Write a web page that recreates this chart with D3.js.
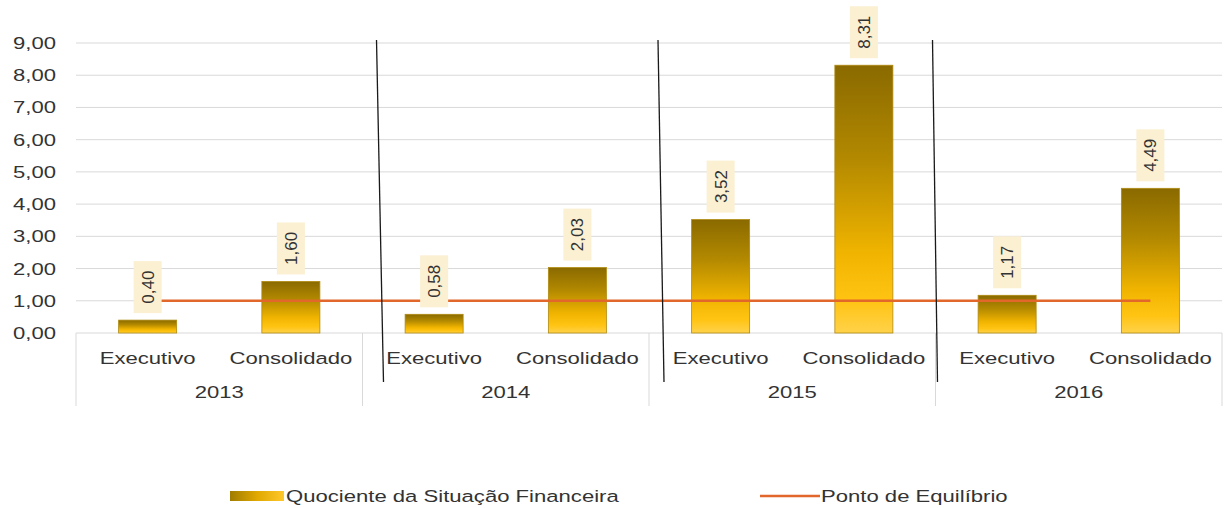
<!DOCTYPE html>
<html>
<head>
<meta charset="utf-8">
<script src="https://cdn.jsdelivr.net/npm/d3@7"></script>
<style>
  body { margin: 0; background: #fff; }
  svg text { font-family: "Liberation Sans", Arial, sans-serif; fill: #333; }
</style>
</head>
<body>
<div id="chart"></div>
<script>
//------------------------------ data ------------------------------
var years = ["2013", "2014", "2015", "2016"];
var types = ["Executivo", "Consolidado"];
var quociente = [0.40, 1.60, 0.58, 2.03, 3.52, 8.31, 1.17, 4.49];
var equilibrio = [1, 1, 1, 1, 1, 1, 1, 1];
var yTicks = [0, 1, 2, 3, 4, 5, 6, 7, 8, 9];
var barName = "Quociente da Situação Financeira";
var lineName = "Ponto de Equilíbrio";

var rows = [];
years.forEach(function(y, i) {
	types.forEach(function(t, j) {
		var k = i * types.length + j;
		rows.push({year: y, type: t, value: quociente[k], eq: equilibrio[k]});
	});
});

//------------------------------ setup ------------------------------
var width = 1224, height = 508;
var plotLeft = 76, plotRight = 1222, plotTop = 43, plotBottom = 333;
var stretch = 1.3; // the reference text is wide

var svg = d3.select("#chart").append("svg")
	.attr("width", width)
	.attr("height", height);

var fmt = function(v) { return d3.format(".2f")(v).replace(".", ","); };

var x0 = d3.scaleBand().domain(years).range([plotLeft, plotRight]);
var x1 = d3.scaleBand().domain(types).range([0, x0.bandwidth()])
	.paddingInner(0.595).paddingOuter(0.2975);
var y = d3.scaleLinear().domain([0, 9]).range([plotBottom, plotTop]);

function cx(d) { return x0(d.year) + x1(d.type) + x1.bandwidth() / 2; }

//gradient for bars
var defs = svg.append("defs");
var grad = defs.append("linearGradient").attr("id", "barGrad")
	.attr("x1", "0%").attr("y1", "0%").attr("x2", "0%").attr("y2", "100%");
[[0, "#8a6a00"], [0.35, "#b38900"], [0.7, "#f0b400"], [0.88, "#ffc312"], [1, "#ffd24a"]]
	.forEach(function(s) { grad.append("stop").attr("offset", s[0]).attr("stop-color", s[1]); });
var legGrad = defs.append("linearGradient").attr("id", "legGrad")
	.attr("x1", "0%").attr("y1", "0%").attr("x2", "100%").attr("y2", "0%");
[[0, "#a07c00"], [0.5, "#e0a800"], [1, "#ffc82a"]]
	.forEach(function(s) { legGrad.append("stop").attr("offset", s[0]).attr("stop-color", s[1]); });

function wideText(g, x, yy, txt, anchor) {
	return g.append("text")
		.attr("transform", "translate(" + x + "," + yy + ") scale(" + stretch + ",1)")
		.attr("text-anchor", anchor)
		.attr("dy", "0.35em")
		.style("font-size", "17px")
		.text(txt);
}

//------------------------------ grid + y axis ------------------------------
svg.append("g").selectAll("line")
	.data(yTicks)
	.enter().append("line")
	.attr("x1", plotLeft).attr("x2", plotRight)
	.attr("y1", function(d) { return y(d); })
	.attr("y2", function(d) { return y(d); })
	.attr("stroke", "#d9d9d9").attr("stroke-width", 1);

var yAxisG = svg.append("g");
yTicks.forEach(function(t) { wideText(yAxisG, 56, y(t), fmt(t), "end"); });

//------------------------------ category axis ------------------------------
var catG = svg.append("g");
var edges = years.map(function(yr) { return x0(yr); }).concat([plotRight]);
catG.selectAll("line.sep")
	.data(edges)
	.enter().append("line")
	.attr("class", "sep")
	.attr("x1", function(d) { return d; }).attr("x2", function(d) { return d; })
	.attr("y1", plotBottom).attr("y2", 406)
	.attr("stroke", "#d9d9d9");
rows.forEach(function(d) { wideText(catG, cx(d), 358, d.type, "middle"); });
years.forEach(function(yr) { wideText(catG, x0(yr) + x0.bandwidth() / 2, 392, yr, "middle"); });

//------------------------------ bars ------------------------------
svg.append("g").selectAll("rect")
	.data(rows)
	.enter().append("rect")
	.attr("x", function(d) { return x0(d.year) + x1(d.type); })
	.attr("width", x1.bandwidth())
	.attr("y", function(d) { return y(d.value); })
	.attr("height", function(d) { return y(0) - y(d.value); })
	.attr("fill", "url(#barGrad)")
	.attr("stroke", "#b08a10").attr("stroke-width", 0.8);

//------------------------------ equilibrium line ------------------------------
var line = d3.line().x(cx).y(function(d) { return y(d.eq); });
svg.append("path")
	.datum(rows)
	.attr("d", line)
	.attr("fill", "none")
	.attr("stroke", "#e2672a")
	.attr("stroke-width", 2.5);

//------------------------------ value labels ------------------------------
var labG = svg.append("g").selectAll("g")
	.data(rows)
	.enter().append("g")
	.attr("transform", function(d) { return "translate(" + cx(d) + "," + (y(d.value) - 33) + ")"; });
labG.append("rect")
	.attr("x", -14).attr("y", -26)
	.attr("width", 28).attr("height", 52)
	.attr("fill", "#fbf0d2");
labG.append("text")
	.attr("transform", "rotate(-90)")
	.attr("text-anchor", "middle")
	.attr("dy", "0.35em")
	.style("font-size", "17px")
	.text(function(d) { return fmt(d.value); });

//------------------------------ hand drawn dividers ------------------------------
var dividerOffsets = [[14, 21], [9, 15], [-3, 2]];
svg.append("g").selectAll("line")
	.data(years.slice(1))
	.enter().append("line")
	.attr("x1", function(d, i) { return x0(d) + dividerOffsets[i][0]; })
	.attr("x2", function(d, i) { return x0(d) + dividerOffsets[i][1]; })
	.attr("y1", 40).attr("y2", 382)
	.attr("stroke", "#1a1a1a").attr("stroke-width", 1.3);

//------------------------------ legend ------------------------------
var leg = svg.append("g");
leg.append("rect").attr("x", 230).attr("y", 491).attr("width", 54).attr("height", 10)
	.attr("fill", "url(#legGrad)");
wideText(leg, 286, 496, barName, "start");
leg.append("line").attr("x1", 760).attr("x2", 820).attr("y1", 496).attr("y2", 496)
	.attr("stroke", "#e2672a").attr("stroke-width", 2.5);
wideText(leg, 821, 496, lineName, "start");
</script>
</body>
</html>
